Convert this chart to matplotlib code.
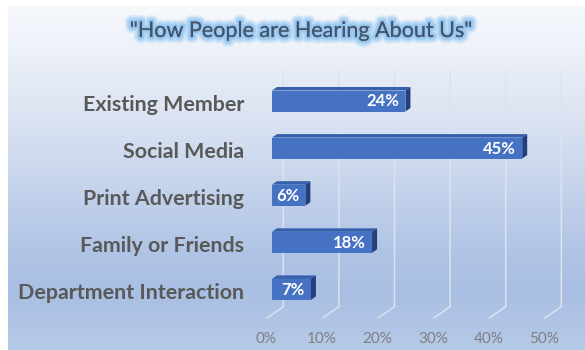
import numpy as np
import matplotlib
matplotlib.use("Agg")
import matplotlib.pyplot as plt
from matplotlib import patheffects as pe
from matplotlib.patches import Polygon
from matplotlib.transforms import ScaledTranslation

# --- data -------------------------------------------------------------
categories = ["Existing Member", "Social Media", "Print Advertising",
              "Family or Friends", "Department Interaction"]
shares = [0.24, 0.45, 0.06, 0.18, 0.07]
tick_values = [0.0, 0.1, 0.2, 0.3, 0.4, 0.5]
tick_labels = ["0%", "10%", "20%", "30%", "40%", "50%"]
title = '"How People are Hearing About Us"'

W, H, DPI = 585, 350, 100
fig = plt.figure(figsize=(W / DPI, H / DPI), dpi=DPI, facecolor="white")

# --- gradient backdrop ------------------------------------------------
bg = fig.add_axes([0, 0, 1, 1])
bg.set_xlim(0, W)
bg.set_ylim(H, 0)
bg.axis("off")
stops_y = np.array([0, 40, 110, 180, 250, 290, 350])
stops_c = np.array([
    [0xf6, 0xf8, 0xfc],
    [0xee, 0xf2, 0xf9],
    [0xdc, 0xe4, 0xf3],
    [0xc6, 0xd4, 0xec],
    [0xb0, 0xc4, 0xe5],
    [0xa9, 0xbf, 0xe3],
    [0xb6, 0xc9, 0xe8],
]) / 255.0
ys = np.arange(H)
grad = np.stack([np.interp(ys, stops_y, stops_c[:, k]) for k in range(3)], axis=-1)
img = np.repeat(grad[:, None, :], 2, axis=1)
bg.imshow(img, extent=(8, W, H, 6), aspect="auto", interpolation="bilinear", zorder=0)

# --- main axes --------------------------------------------------------
x0_px, px_per_unit = 272.0, 556.0           # 0.5 spans 278 px
y0_px, px_per_row = 101.0, 47.1
ax_top_px, ax_bot_px = 60.0, 325.0
ax = fig.add_axes([x0_px / W, (H - ax_bot_px) / H,
                   0.5 * px_per_unit / W, (ax_bot_px - ax_top_px) / H])
ax.set_xlim(0, 0.5)
ax.set_ylim((ax_bot_px - y0_px) / px_per_row, (ax_top_px - y0_px) / px_per_row)
ax.patch.set_visible(False)
for s in ax.spines.values():
    s.set_visible(False)

PX = 1.0 / px_per_unit      # one pixel in x data units
PY = 1.0 / px_per_row       # one pixel in y data units

# perspective gridlines: back wall verticals plus a floor diagonal
grid_top = (70 - y0_px) * PY
floor_back = (306.7 - y0_px) * PY
floor_front = (318.3 - y0_px) * PY
for v in tick_values:
    xb = v + 11.3 * PX
    xf = v - 5.5 * PX
    ax.plot([xb, xb, xf], [grid_top, floor_back, floor_front],
            color="#dde3ee", lw=1.1, solid_capstyle="butt", zorder=1,
            clip_on=False)

# 3-D style bars
bar_h = 21 * PY
dx, dy = 5 * PX, -3.5 * PY
front_col, top_col, side_col = "#4672c3", "#3560ab", "#243f7c"
ypos = np.arange(len(categories))
ax.barh(ypos, shares, height=bar_h, color=front_col, edgecolor="none", zorder=3)
for y, v in zip(ypos, shares):
    top = y - bar_h / 2
    bot = y + bar_h / 2
    ax.add_patch(Polygon([[0, top], [v, top], [v + dx, top + dy], [dx, top + dy]],
                         closed=True, facecolor=top_col, edgecolor="none", zorder=3))
    ax.add_patch(Polygon([[v, top], [v + dx, top + dy], [v + dx, bot + dy], [v, bot]],
                         closed=True, facecolor=side_col, edgecolor="none", zorder=3))
    ax.text(v - 6 * PX, y + 0.5 * PY, f"{v * 100:.0f}%", ha="right", va="center",
            color="white", fontsize=12, fontweight="bold", family="Lato", zorder=4)

# category labels
ax.set_yticks(ypos)
ax.set_yticklabels(categories, family="Lato", fontweight="bold", fontsize=15.4,
                   color="#595959")
ax.tick_params(axis="y", length=0, pad=20)
for lbl in ax.get_yticklabels():
    lbl.set_transform(lbl.get_transform() + ScaledTranslation(0, -2 / DPI, fig.dpi_scale_trans))

# value axis labels sit at the front edge of the floor
ax.set_xticks(tick_values)
ax.set_xticklabels(tick_labels, family="Lato", fontsize=11, color="#7f7f7f")
ax.tick_params(axis="x", length=0, pad=5)
shift = ScaledTranslation(-5.5 / DPI, 0, fig.dpi_scale_trans)
for lbl in ax.get_xticklabels():
    lbl.set_transform(lbl.get_transform() + shift)

# title with soft blue glow
t = fig.text(301 / W, 1 - 31 / H, title, ha="center", va="center",
             family="Lato", fontsize=15.5, color="#44546a")
t.set_path_effects([
    pe.withStroke(linewidth=9, foreground="#d6e8f8"),
    pe.withStroke(linewidth=6.5, foreground="#bcdaf5"),
    pe.withStroke(linewidth=4, foreground="#a2cdf1"),
    pe.withStroke(linewidth=2, foreground="#93c5ef"),
    pe.Normal(),
])

fig.savefig("out.png", dpi=DPI, facecolor="white")
